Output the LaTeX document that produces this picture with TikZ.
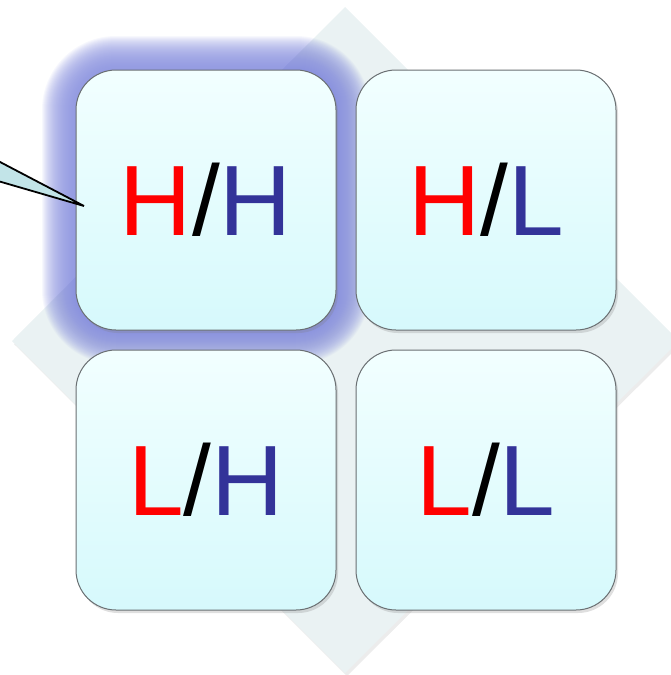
\documentclass[tikz,border=0pt]{standalone}
\usepackage{fontspec}
\setmainfont{Liberation Sans}
\usetikzlibrary{shadows}
\definecolor{hblue}{HTML}{333399}
\definecolor{hred}{HTML}{FF0000}
\definecolor{diamondfill}{HTML}{EAF2F3}
\definecolor{boxtop}{HTML}{F2FFFF}
\definecolor{boxbottom}{HTML}{D6F9FC}
\definecolor{boxedge}{HTML}{6A6F72}
\definecolor{glowblue}{HTML}{8890DE}
\definecolor{calloutfill}{HTML}{C2E4E8}
\tikzset{
  x=1pt, y=-1pt,
  quad/.style={minimum width=260pt, minimum height=260pt, rounded corners=40pt,
    top color=boxtop, bottom color=boxbottom, draw=boxedge, line width=1pt,
    inner sep=0pt, font=\fontsize{100}{100}\selectfont,
    drop shadow={opacity=0.25, shadow xshift=2pt, shadow yshift=-3pt}},
  backdiamond/.style={fill=diamondfill,
    drop shadow={opacity=0.15, shadow xshift=2pt, shadow yshift=-3pt}},
  pointer/.style={fill=calloutfill, draw=black, line width=1.8pt, line join=miter},
}
\newcommand{\pair}[2]{\textcolor{hred}{#1}\textcolor{black}{/}\textcolor{hblue}{#2}}
\begin{document}
\begin{tikzpicture}
\useasboundingbox (0,0) rectangle (671,675);
\begin{scope}
\clip (0,0) rectangle (671,675);
% background diamond
\path[backdiamond] (345,7) -- (679,341) -- (345,673) -- (12,341) -- cycle;
% soft blue glow around the highlighted quadrant
\foreach \i in {34,33,...,1}{
  \fill[glowblue, opacity=0.065, rounded corners=40pt+\i pt]
    (76-\i,70-\i) rectangle (336+\i,330+\i);
}
% the four quadrants
\node[quad] (hh) at (206,200) {\pair{H}{H}};
\node[quad] (hl) at (486,200) {\pair{H}{L}};
\node[quad] (lh) at (206,480) {\pair{L}{H}};
\node[quad] (ll) at (486,480) {\pair{L}{L}};
% callout pointer
\coordinate (tip) at (84,206);
\coordinate (upper) at (-40,141);
\coordinate (lower) at (-40,170);
\path[pointer] (upper) -- (tip) -- (lower);
\end{scope}
\end{tikzpicture}
\end{document}
